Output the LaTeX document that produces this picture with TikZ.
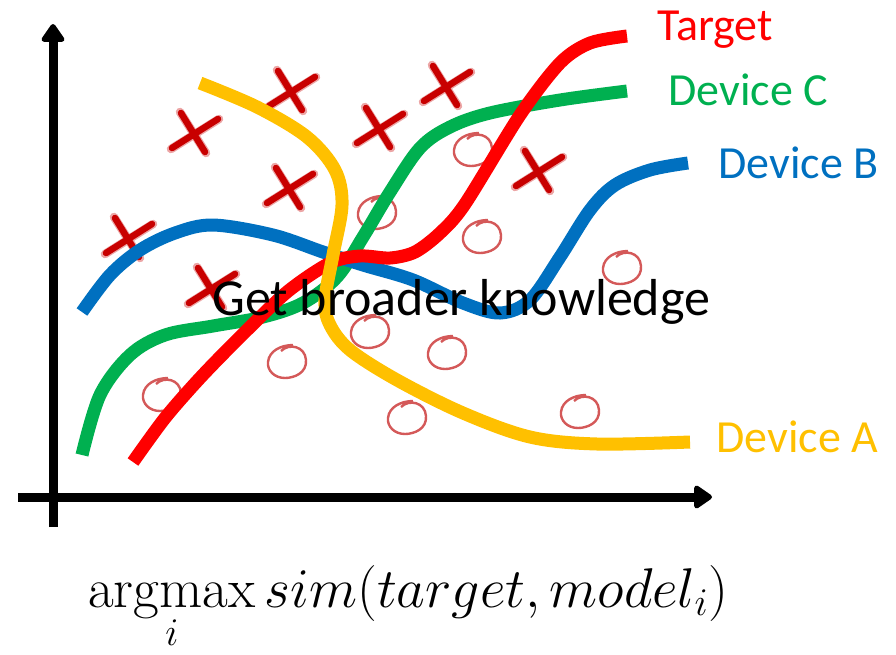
\RequirePackage{fix-cm}
\documentclass[tikz,border=0pt]{standalone}
\usepackage{fontspec}
\newfontfamily\labelfont{Carlito}
\usetikzlibrary{arrows.meta}
\definecolor{tgtred}{RGB}{255,0,0}
\definecolor{devgreen}{RGB}{0,176,80}
\definecolor{devblue}{RGB}{0,112,192}
\definecolor{devyellow}{RGB}{255,192,0}
\definecolor{markred}{RGB}{200,0,0}
\definecolor{ringred}{RGB}{205,60,60}
\tikzset{
  curve/.style={line width=13pt, line cap=butt},
  axisline/.style={line width=9pt, line cap=butt, -{Triangle[round,length=20pt,width=26pt]}},
  xmark/.pic={
    \draw[markred, line width=8.5pt, opacity=0.35, line cap=round] (-13,-20) -- (13,21) (-22,17) -- (26,-13);
    \draw[markred, line width=6.5pt, line cap=round] (-12,-19) -- (12,20) (-21,16) -- (25,-13);
  },
  omark/.pic={
    \draw[ringred, line width=2.4pt, opacity=0.85]
      (-6,-11) .. controls (2,-19) and (18,-16) .. (19,-2)
      .. controls (20,11) and (7,16) .. (-2,16)
      .. controls (-13,16) and (-20,8) .. (-19,0)
      .. controls (-18,-11) and (-6,-17) .. (6,-17);
  },
  lbl/.style={anchor=base west, inner sep=0pt, font=\labelfont\fontsize{46}{50}\selectfont},
}
\begin{document}
\begin{tikzpicture}[x=1pt,y=-1pt]
\useasboundingbox (0,0) rectangle (896,654);

% negative samples
\foreach \p in {(290,90),(193,132),(445,85),(378,127),(288,187),(127,237),(210,287),(537,170)}
  \pic at \p {xmark};
% positive samples
\foreach \p in {(473,150),(377,213),(482,237),(622,268),(370,332),(447,353),(287,362),(162,395),(407,418),(580,412)}
  \pic at \p {omark};

% model curves
\draw[curve, devgreen] plot[smooth, tension=0.55] coordinates {(82,455) (100,395) (130,355) (165,335) (213,326) (263,317) (303,303) (337,277) (363,237) (390,192) (420,148) (450,127) (490,113) (560,100) (627,91)};
\draw[curve, devblue] plot[smooth, tension=0.55] coordinates {(82,312) (110,275) (140,250) (175,233) (213,225) (273,235) (323,252) (363,265) (413,280) (463,303) (500,313) (530,300) (560,257) (590,210) (615,185) (650,170) (688,163)};
\draw[curve, tgtred] plot[smooth, tension=0.5] coordinates {(133,462) (165,418) (200,378) (240,337) (287,292) (330,263) (360,256) (390,258) (415,252) (440,233) (465,204) (520,115) (560,63) (590,43) (627,36)};
\draw[curve, devyellow] plot[smooth, tension=0.55] coordinates {(200,83) (257,107) (307,137) (335,170) (342,205) (333,255) (325,300) (330,325) (350,350) (397,380) (463,413) (530,437) (597,444) (690,442)};

% axes
\coordinate (ybot) at (53,527);
\coordinate (ytop) at (53,24);
\coordinate (xleft) at (18,497);
\coordinate (xright) at (712,497);
\draw[axisline] (ybot) -- (ytop);
\draw[axisline] (xleft) -- (xright);

% labels
\node[lbl, text=tgtred] (ltarget) at (657,40) {Target};
\node[lbl, text=devgreen] (ldevc) at (668,105) {Device C};
\node[lbl, text=devblue] (ldevb) at (718,178) {Device B};
\node[lbl, text=devyellow] (ldeva) at (716,452) {Device A};

\node[anchor=base west, inner sep=0pt, font=\labelfont\fontsize{52}{56}\selectfont] (msg) at (212,315) {Get broader knowledge};

\node[anchor=base west, inner sep=0pt, font=\fontsize{56}{60}\selectfont] (formula) at (88,607)
  {$\mathop{\mathrm{argmax}}\limits_{i} sim(target, model_{i})$};
\end{tikzpicture}
\end{document}
